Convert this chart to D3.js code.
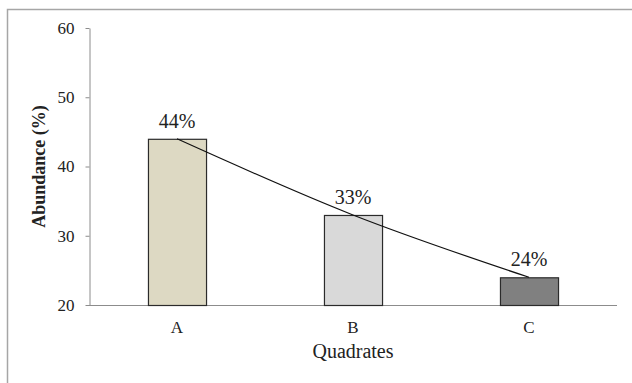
<!DOCTYPE html>
<html>
<head>
<meta charset="utf-8">
<script src="https://cdn.jsdelivr.net/npm/d3@7/dist/d3.min.js"></script>
<style>
  html, body { margin: 0; padding: 0; background: #fff; }
  svg text { font-family: "Liberation Serif", "Times New Roman", Times, serif; }
</style>
</head>
<body>
<svg id="chart" width="632" height="383"></svg>
<script>
// Abundance per quadrate
const quadrates = ["A", "B", "C"];
const abundance = [44, 33, 24];
const barColors = ["#DDD9C3", "#D9D9D9", "#808080"];
const yTicks = [20, 30, 40, 50, 60];

const SERIF = "'Liberation Serif', 'Times New Roman', Times, serif";
const svg = d3.select("#chart");
const W = 632, H = 383;
const margin = { top: 28, right: 15, bottom: 78, left: 89 };

// chart frame (top and left edges)
svg.append("path")
  .attr("d", `M7.5,${H} V9.5 H${W}`)
  .attr("fill", "none")
  .attr("stroke", "#A6A6A6")
  .attr("stroke-width", 1.5);

const x = d3.scaleBand()
  .domain(quadrates)
  .range([margin.left, W - margin.right])
  .paddingInner(0.67)
  .paddingOuter(0.335);

const y = d3.scaleLinear()
  .domain([20, 60])
  .range([H - margin.bottom, margin.top]);

// y axis
const yAxis = svg.append("g")
  .attr("transform", `translate(${margin.left + 0.5},0)`)
  .call(d3.axisLeft(y).tickValues(yTicks).tickSize(4).tickSizeOuter(0).tickPadding(11));
yAxis.attr("font-family", SERIF).attr("font-size", 17);
yAxis.select(".domain").attr("stroke", "#8C8C8C");
yAxis.selectAll(".tick line").attr("stroke", "#8C8C8C");
yAxis.selectAll(".tick text").attr("fill", "#222");

// x axis
const xAxis = svg.append("g")
  .attr("transform", `translate(0,${y(20) + 0.5})`)
  .call(d3.axisBottom(x).tickSize(0).tickPadding(15));
xAxis.attr("font-family", SERIF).attr("font-size", 17);
xAxis.select(".domain").attr("stroke", "#8C8C8C").attr("d", `M${margin.left},0H${W - margin.right}`);
xAxis.selectAll(".tick text").attr("fill", "#222");

// bars
svg.append("g").selectAll("rect")
  .data(quadrates)
  .join("rect")
  .attr("x", d => x(d) + 0.5)
  .attr("y", (d, i) => y(abundance[i]) + 0.5)
  .attr("width", x.bandwidth())
  .attr("height", (d, i) => y(20) - y(abundance[i]))
  .attr("fill", (d, i) => barColors[i])
  .attr("stroke", "#2b2b2b")
  .attr("stroke-width", 1.2);

// trend line through bar tops
const line = d3.line()
  .x(d => x(d[0]) + x.bandwidth() / 2)
  .y(d => y(d[1]))
  .curve(d3.curveMonotoneX);
svg.append("path")
  .datum(quadrates.map((q, i) => [q, abundance[i]]))
  .attr("d", line)
  .attr("fill", "none")
  .attr("stroke", "#111")
  .attr("stroke-width", 1.2);

// value labels
svg.append("g")
  .attr("font-family", SERIF)
  .attr("font-size", 20)
  .selectAll("text")
  .data(quadrates)
  .join("text")
  .attr("x", d => x(d) + x.bandwidth() / 2)
  .attr("y", (d, i) => y(abundance[i]) - 11)
  .attr("text-anchor", "middle")
  .attr("fill", "#222")
  .text((d, i) => abundance[i] + "%");

// axis titles
svg.append("text")
  .attr("transform", `translate(45,${(y(20) + y(60)) / 2}) rotate(-90)`)
  .attr("text-anchor", "middle")
  .attr("fill", "#222")
  .attr("font-family", SERIF)
  .attr("font-size", 18)
  .attr("font-weight", "bold")
  .text("Abundance (%)");

svg.append("text")
  .attr("x", (margin.left + W - margin.right) / 2)
  .attr("y", 358)
  .attr("text-anchor", "middle")
  .attr("fill", "#222")
  .attr("font-family", SERIF)
  .attr("font-size", 20)
  .text("Quadrates");
</script>
</body>
</html>
